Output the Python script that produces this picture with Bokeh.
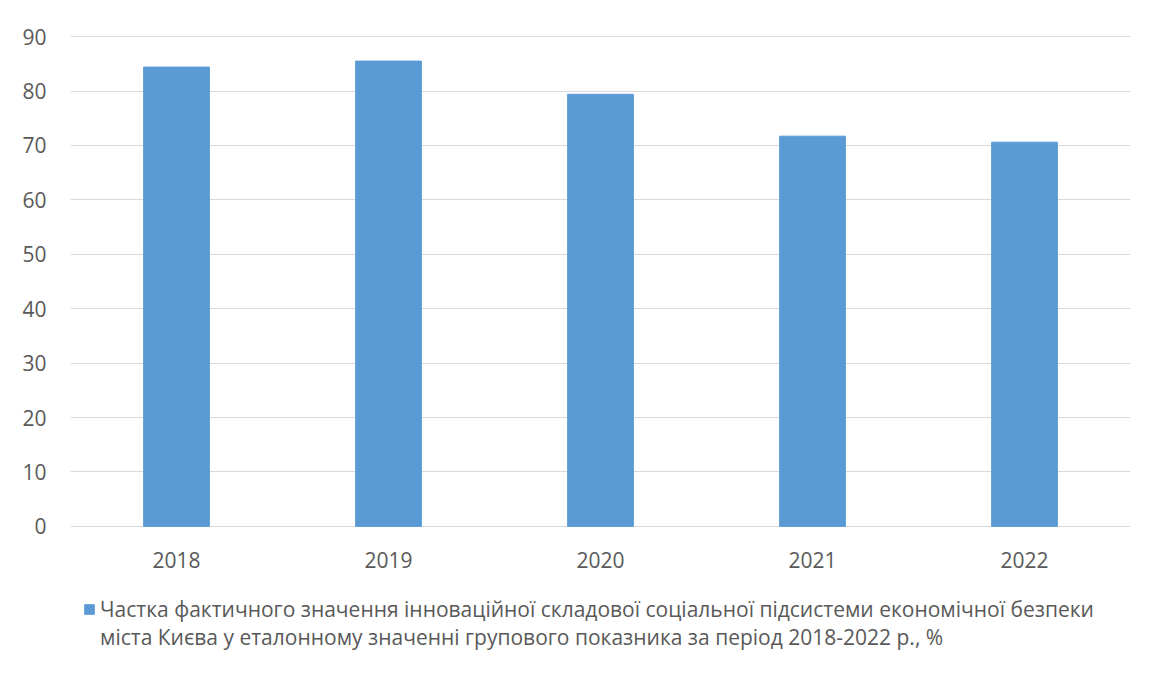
from bokeh.plotting import figure
from bokeh.layouts import column
from bokeh.models import FactorRange, Range1d, Legend, LegendItem, SingleIntervalTicker, ColumnDataSource
from bokeh.embed import file_html
from bokeh.resources import INLINE

years = ["2018", "2019", "2020", "2021", "2022"]
values = [84.4, 85.5, 79.4, 71.7, 70.6]
legend_line1 = "Частка фактичного значення інноваційної складової соціальної підсистеми економічної безпеки"
legend_line2 = "міста Києва у еталонному значенні групового показника за період 2018-2022 р., %"

FONT = "Open Sans"
TXT = "#595959"
BAR = "#5B9BD5"
GRID = "#D9D9D9"

src = ColumnDataSource(dict(x=years, top=values))

# main chart
p = figure(width=1142, height=580, output_backend="svg", toolbar_location=None,
           x_range=FactorRange(factors=years, range_padding=0),
           y_range=Range1d(-0.2, 90.2),
           min_border_left=70, min_border_right=12, min_border_top=35, min_border_bottom=53)

p.vbar(x="x", top="top", width=0.31, source=src, fill_color=BAR, line_color=BAR)

p.outline_line_color = None
p.xgrid.grid_line_color = None
p.ygrid.grid_line_color = GRID
p.ygrid.grid_line_width = 1
p.yaxis.ticker = SingleIntervalTicker(interval=10)

for ax in (p.xaxis[0], p.yaxis[0]):
    ax.axis_line_color = None
    ax.major_tick_line_color = None
    ax.minor_tick_line_color = None
    ax.major_label_text_font = FONT
    ax.major_label_text_font_size = "21px"
    ax.major_label_text_color = TXT
p.yaxis.major_label_standoff = 18
p.xaxis.major_label_standoff = 18

# legend strip below the chart (its frame is aligned with the chart frame)
pl = figure(width=1142, height=79, output_backend="svg", toolbar_location=None,
            x_range=FactorRange(factors=years, range_padding=0), y_range=Range1d(1000, 1001),
            x_axis_location=None, y_axis_location=None,
            min_border_left=70, min_border_right=12, min_border_top=0, min_border_bottom=0)
pl.outline_line_color = None
pl.grid.visible = False
# same series, kept out of this strip's visible range; only its legend swatch shows
ra = pl.vbar(x="x", top="top", width=0.31, source=src, fill_color=BAR, line_color=BAR)
rb = pl.vbar(x="x", top="top", width=0.31, source=src, fill_alpha=0, line_alpha=0)

legend = Legend(items=[LegendItem(label=legend_line1, renderers=[ra]),
                       LegendItem(label=legend_line2, renderers=[rb])],
                location=(13, 8), orientation="vertical",
                label_text_font=FONT, label_text_font_size="21px", label_text_color=TXT,
                label_height=20,
                glyph_width=12, glyph_height=12, label_standoff=5,
                padding=0, margin=0, spacing=-7,
                border_line_color=None, background_fill_alpha=0)
pl.add_layout(legend, "center")

layout = column(p, pl, spacing=0)
open("out.html", "w").write(file_html(layout, INLINE))
